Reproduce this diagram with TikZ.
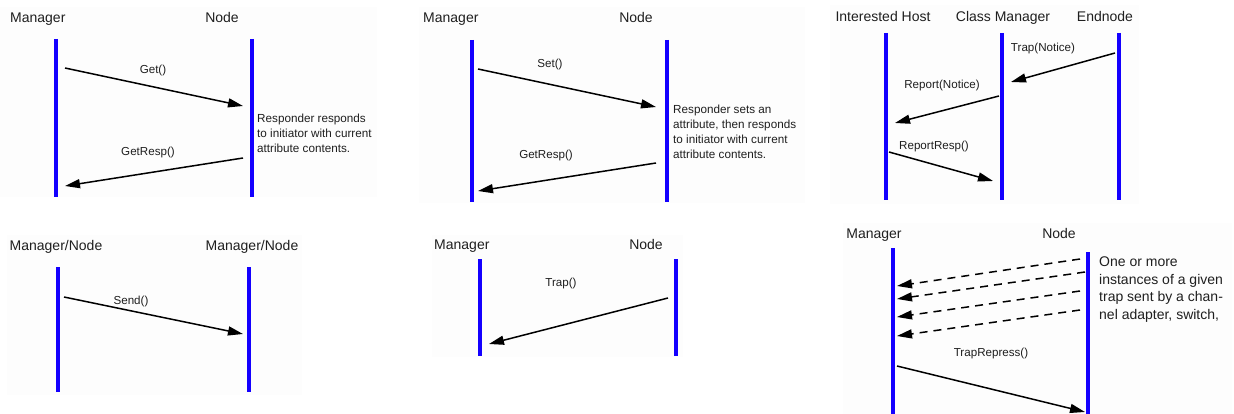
\documentclass[tikz,border=0pt]{standalone}
\usepackage{fontspec}
\setmainfont{Liberation Sans}
\usetikzlibrary{arrows.meta}
\definecolor{lifeblue}{RGB}{20,0,255}
\definecolor{panelbg}{RGB}{253,253,253}
\tikzset{
  hdr/.style={font=\fontsize{14}{17}\selectfont, text=black!88, inner sep=0pt, anchor=base},
  lbl/.style={font=\fontsize{11.6}{13}\selectfont, text=black!88, inner sep=0pt, anchor=base},
  note/.style={font=\fontsize{11.7}{15}\selectfont, text=black!88, inner sep=0pt, anchor=north west, align=left},
  bignote/.style={font=\fontsize{14}{17.5}\selectfont, text=black!88, inner sep=0pt, anchor=north west, align=left},
  life/.style={draw=lifeblue, line width=3.3pt},
  msg/.style={draw=black, line width=1.5pt, -{Triangle[length=15pt,width=9pt]}},
  dmsg/.style={msg, dash pattern=on 8pt off 6pt},
  panel/.style={fill=panelbg, draw=none}
}
\begin{document}
\begin{tikzpicture}[x=1pt, y=-1pt]
\useasboundingbox (0,0) rectangle (1234,414);
\fill[white] (0,0) rectangle (1234,414);

% panel backgrounds
\path[panel] (0,7) rectangle (377,197);
\path[panel] (419,7) rectangle (805,203);
\path[panel] (830,5) rectangle (1139,204);
\path[panel] (7,235) rectangle (302,395);
\path[panel] (432,235) rectangle (683,357);
\path[panel] (843,223) rectangle (1232,414);

% ---------- Get / GetResp ----------
\node[hdr, anchor=base west] (m1) at (10,23) {Manager};
\node[hdr] (n1) at (222,23) {Node};
\coordinate (m1t) at (56,39); \coordinate (m1b) at (56,197);
\coordinate (n1t) at (252,39); \coordinate (n1b) at (252,197);
\draw[life] (m1t) -- (m1b);
\draw[life] (n1t) -- (n1b);
\coordinate (g1s) at (65,68); \coordinate (g1e) at (243,106);
\draw[msg] (g1s) -- (g1e);
\node[lbl] (g1l) at (153,74) {Get()};
\coordinate (r1s) at (243,158); \coordinate (r1e) at (65,186);
\draw[msg] (r1s) -- (r1e);
\node[lbl] (r1l) at (148,156) {GetResp()};
\node[note] (t1) at (257,114) {Responder responds\\to initiator with current\\attribute contents.};

% ---------- Set / GetResp ----------
\node[hdr, anchor=base west] (m2) at (423,23) {Manager};
\node[hdr] (n2) at (636,23) {Node};
\coordinate (m2t) at (472,40); \coordinate (m2b) at (472,202);
\coordinate (n2t) at (667,40); \coordinate (n2b) at (667,202);
\draw[life] (m2t) -- (m2b);
\draw[life] (n2t) -- (n2b);
\coordinate (s2s) at (478,69); \coordinate (s2e) at (656,107);
\draw[msg] (s2s) -- (s2e);
\node[lbl] (s2l) at (550,68) {Set()};
\coordinate (r2s) at (656,163); \coordinate (r2e) at (478,191);
\draw[msg] (r2s) -- (r2e);
\node[lbl] (r2l) at (546,159) {GetResp()};
\node[note] (t2) at (673,105) {Responder sets an\\attribute, then responds\\to initiator with current\\attribute contents.};

% ---------- Trap / Report / ReportResp ----------
\node[hdr] (h3) at (883,22) {Interested Host};
\node[hdr] (c3) at (1003,22) {Class Manager};
\node[hdr] (e3) at (1105,22) {Endnode};
\coordinate (h3t) at (886,33); \coordinate (h3b) at (886,200);
\coordinate (c3t) at (1002,33); \coordinate (c3b) at (1002,200);
\coordinate (e3t) at (1119,33); \coordinate (e3b) at (1119,200);
\draw[life] (h3t) -- (h3b);
\draw[life] (c3t) -- (c3b);
\draw[life] (e3t) -- (e3b);
\coordinate (tr3s) at (1115,53); \coordinate (tr3e) at (1011,82);
\draw[msg] (tr3s) -- (tr3e);
\node[lbl] (tr3l) at (1043,52) {Trap(Notice)};
\coordinate (rp3s) at (999,96); \coordinate (rp3e) at (895,123);
\draw[msg] (rp3s) -- (rp3e);
\node[lbl] (rp3l) at (942,89) {Report(Notice)};
\coordinate (rr3s) at (889,152); \coordinate (rr3e) at (993,181);
\draw[msg] (rr3s) -- (rr3e);
\node[lbl] (rr3l) at (934,150) {ReportResp()};

% ---------- Send ----------
\node[hdr] (a4) at (56,251) {Manager/Node};
\node[hdr] (b4) at (252,251) {Manager/Node};
\coordinate (a4t) at (58,267); \coordinate (a4b) at (58,392);
\coordinate (b4t) at (249,267); \coordinate (b4b) at (249,392);
\draw[life] (a4t) -- (a4b);
\draw[life] (b4t) -- (b4b);
\coordinate (sd4s) at (64,297); \coordinate (sd4e) at (243,334);
\draw[msg] (sd4s) -- (sd4e);
\node[lbl] (sd4l) at (131,304) {Send()};

% ---------- Trap ----------
\node[hdr, anchor=base west] (m5) at (434,249) {Manager};
\node[hdr] (n5) at (646,249) {Node};
\coordinate (m5t) at (480,259); \coordinate (m5b) at (480,356);
\coordinate (n5t) at (676,259); \coordinate (n5b) at (676,356);
\draw[life] (m5t) -- (m5b);
\draw[life] (n5t) -- (n5b);
\coordinate (tp5s) at (668,298); \coordinate (tp5e) at (489,344);
\draw[msg] (tp5s) -- (tp5e);
\node[lbl] (tp5l) at (561,286) {Trap()};

% ---------- Repeated traps / TrapRepress ----------
\node[hdr] (m6) at (874,238) {Manager};
\node[hdr] (n6) at (1059,238) {Node};
\coordinate (m6t) at (893,248); \coordinate (m6b) at (893,414);
\coordinate (n6t) at (1088,252); \coordinate (n6b) at (1088,414);
\draw[life] (m6t) -- (m6b);
\draw[life] (n6t) -- (n6b);
\coordinate (d1s) at (1080,259); \coordinate (d1e) at (897,286);
\coordinate (d2s) at (1085,272); \coordinate (d2e) at (897,299);
\coordinate (d3s) at (1080,291); \coordinate (d3e) at (897,317);
\coordinate (d4s) at (1080,310); \coordinate (d4e) at (897,336);
\draw[dmsg] (d1s) -- (d1e);
\draw[dmsg] (d2s) -- (d2e);
\draw[dmsg] (d3s) -- (d3e);
\draw[dmsg] (d4s) -- (d4e);
\node[bignote] (t6) at (1099,257) {One or more\\instances of a given\\trap sent by a chan-\\nel adapter, switch,};
\node[lbl] (tr6l) at (991,356) {TrapRepress()};
\coordinate (tr6s) at (897,366); \coordinate (tr6e) at (1085,412);
\draw[msg] (tr6s) -- (tr6e);
\end{tikzpicture}
\end{document}
